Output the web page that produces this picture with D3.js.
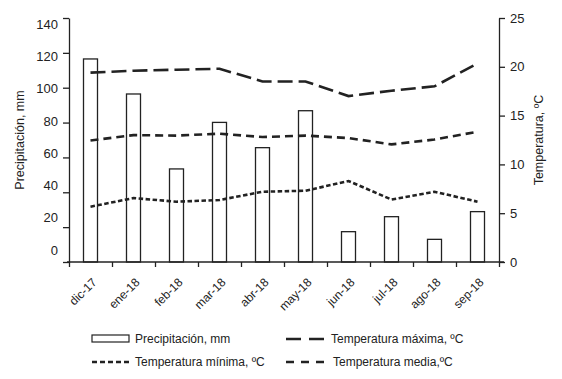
<!DOCTYPE html>
<html>
<head>
<meta charset="utf-8">
<script src="https://cdn.jsdelivr.net/npm/d3@7"></script>
<style>
  body { margin: 0; background: #fff; }
  text { font-family: "Liberation Sans", Arial, sans-serif; fill: #222; }
</style>
</head>
<body>
<div id="chart"></div>
<script>
const months = ["dic-17", "ene-18", "feb-18", "mar-18", "abr-18", "may-18", "jun-18", "jul-18", "ago-18", "sep-18"];
const precip = [116.5, 96.4, 53.4, 80.1, 65.6, 86.8, 17.4, 26.0, 13.0, 28.9];
const tMax = [19.4, 19.6, 19.7, 19.8, 18.5, 18.5, 17.0, 17.55, 18.0, 20.35];
const tMed = [12.45, 13.0, 12.95, 13.15, 12.8, 12.95, 12.7, 12.05, 12.55, 13.35];
const tMin = [5.67, 6.55, 6.18, 6.35, 7.2, 7.3, 8.3, 6.4, 7.2, 6.18];
const precipTicks = [0, 20, 40, 60, 80, 100, 120, 140];
const tempTicks = [0, 5, 10, 15, 20, 25];

const width = 562, height = 379;
const plotLeft = 69, plotRight = 499, plotTop = 18, plotBottom = 262;

const svg = d3.select("#chart").append("svg")
    .attr("width", width)
    .attr("height", height);

const x = d3.scaleBand().domain(months).range([plotLeft, plotRight]);
const xEdge = d3.scaleLinear().domain([0, months.length]).range([plotLeft, plotRight]);
const yP = d3.scaleLinear().domain([0, 140]).range([plotBottom, plotTop]);
// the printed labels of the left axis sit a little off their ticks
const yPLabel = d3.scaleLinear().domain([0, 140]).range([250, 24]);
const yT = d3.scaleLinear().domain([0, 25]).range([plotBottom, plotTop]);

// bars
svg.append("g")
    .selectAll("rect")
    .data(precip)
    .enter()
    .append("rect")
    .attr("x", (d, i) => x(months[i]) + x.bandwidth() / 2 - 7)
    .attr("y", d => yP(d))
    .attr("width", 14)
    .attr("height", d => yP(0) - yP(d))
    .attr("fill", "#fff")
    .attr("stroke", "#222")
    .attr("stroke-width", 1.3);

// temperature lines
const line = d3.line()
    .x((d, i) => x(months[i]) + x.bandwidth() / 2)
    .y(d => yT(d));

const series = [
    { values: tMax, dash: "15,6" },
    { values: tMed, dash: "8,5" },
    { values: tMin, dash: "4.5,2.5" }
];

svg.append("g")
    .selectAll("path")
    .data(series)
    .enter()
    .append("path")
    .attr("d", d => line(d.values))
    .attr("fill", "none")
    .attr("stroke", "#222")
    .attr("stroke-width", 2.6)
    .attr("stroke-dasharray", d => d.dash);

// axes
const axisStyle = g => {
    g.selectAll("path, line").attr("stroke", "#222").attr("stroke-width", 1.3);
    g.selectAll("text").style("font-family", "'Liberation Sans', Arial, sans-serif");
};

svg.append("g")
    .attr("transform", `translate(${plotLeft},0)`)
    .call(d3.axisLeft(yP).tickValues(precipTicks).tickSize(6).tickSizeOuter(0).tickFormat(""))
    .call(axisStyle);

svg.append("g")
    .attr("transform", `translate(${plotLeft - 11},0)`)
    .call(d3.axisLeft(yPLabel).tickValues(precipTicks).tickSize(0).tickPadding(0))
    .call(g => g.select(".domain").remove())
    .call(g => g.selectAll("text").attr("font-size", 13).style("fill", "#222"));

svg.append("g")
    .attr("transform", `translate(${plotRight},0)`)
    .call(d3.axisRight(yT).tickValues(tempTicks).tickSize(6).tickSizeOuter(0).tickPadding(5))
    .call(axisStyle)
    .call(g => g.selectAll("text").attr("font-size", 13).style("fill", "#222"));

svg.append("g")
    .attr("transform", `translate(0,${plotBottom})`)
    .call(d3.axisBottom(xEdge).ticks(months.length).tickSize(5).tickSizeOuter(0).tickFormat(""))
    .call(g => g.select(".domain").attr("d", `M${plotLeft - 2},0H${plotRight + 5}`))
    .call(axisStyle);

svg.append("g")
    .selectAll("text")
    .data(months)
    .enter()
    .append("text")
    .attr("transform", d => `translate(${x(d) + x.bandwidth() / 2 + 1},${plotBottom + 15}) rotate(-45)`)
    .attr("text-anchor", "end")
    .attr("dy", "0.7em")
    .attr("font-size", 12)
    .text(d => d);

// axis titles
svg.append("text")
    .attr("transform", `translate(24,140) rotate(-90)`)
    .attr("text-anchor", "middle")
    .attr("font-size", 12.5)
    .text("Precipitación, mm");

svg.append("text")
    .attr("transform", `translate(543,140) rotate(-90)`)
    .attr("text-anchor", "middle")
    .attr("font-size", 12.5)
    .text("Temperatura, ºC");

// legend
const legend = svg.append("g").attr("class", "legend");

legend.append("rect")
    .attr("x", 92).attr("y", 335)
    .attr("width", 37).attr("height", 7)
    .attr("fill", "#fff").attr("stroke", "#222").attr("stroke-width", 1.2);
legend.append("text").attr("x", 135).attr("y", 343).attr("font-size", 12).text("Precipitación, mm");

legend.append("line")
    .attr("x1", 286).attr("x2", 326).attr("y1", 339).attr("y2", 339)
    .attr("stroke", "#222").attr("stroke-width", 2.4).attr("stroke-dasharray", "15,8");
legend.append("text").attr("x", 331).attr("y", 343).attr("font-size", 12).text("Temperatura máxima, ºC");

legend.append("line")
    .attr("x1", 92).attr("x2", 130).attr("y1", 362).attr("y2", 362)
    .attr("stroke", "#222").attr("stroke-width", 2.4).attr("stroke-dasharray", "5,3");
legend.append("text").attr("x", 135).attr("y", 366).attr("font-size", 12).text("Temperatura mínima, ºC");

legend.append("line")
    .attr("x1", 286).attr("x2", 326).attr("y1", 362).attr("y2", 362)
    .attr("stroke", "#222").attr("stroke-width", 2.4).attr("stroke-dasharray", "8,7");
legend.append("text").attr("x", 333).attr("y", 366).attr("font-size", 12).text("Temperatura media,ºC");
</script>
</body>
</html>
